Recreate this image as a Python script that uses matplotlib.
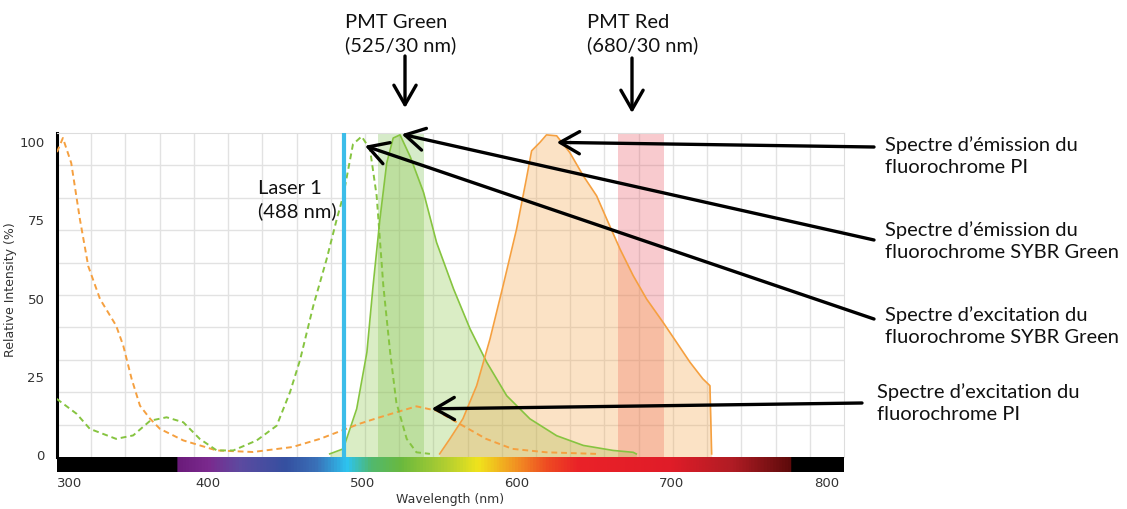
import numpy as np
import matplotlib
matplotlib.use("Agg")
import matplotlib.pyplot as plt
from matplotlib.colors import LinearSegmentedColormap

# Spectre d'excitation PI (pointillés orange)
pi_exc_nm = [302.8, 306.6, 312, 317.6, 323, 330.6, 341, 345.6, 351, 356.4, 363, 369.3,
             384.4, 405.9, 429.4, 455, 472.7, 487, 498, 510, 522, 535, 548, 565, 580,
             597, 619, 651]
pi_exc_val = [96.5, 101, 93, 75, 60, 49.5, 41, 34.6, 24, 15.4, 11.2, 8,
              4.3, 1.1, 0.6, 2.2, 4.8, 7.5, 9.6, 11.5, 13.3, 15.2, 13.8, 9, 4.8,
              1.6, 0.5, 0]

# Spectre d'excitation SYBR Green (pointillés verts)
sg_exc_nm = [302.6, 315.5, 324, 341, 352, 363, 373.6, 384.4, 395, 406, 416.7, 431.8,
             444.7, 453.3, 459.8, 468.4, 477, 483.5, 487.7, 494, 499.6, 505, 509.3,
             513.6, 518, 522, 528.7, 535, 543.7]
sg_exc_val = [17.6, 12.8, 8, 4.8, 5.9, 10.6, 11.7, 10.1, 4.8, 1.1, 1.1, 4.3,
              9, 19.7, 30, 47.4, 62.3, 75, 82.5, 99, 101.5, 97.4, 82.5,
              53.8, 32.5, 16.5, 4.8, 0.5, 0]

# Spectre d'émission SYBR Green (trait plein vert)
sg_em_nm = [479, 487.7, 496.4, 503, 507, 511.4, 515.8, 520, 524.4, 531, 539.6, 548,
            559, 569.6, 580.4, 593.3, 608.3, 625.6, 642.8, 662, 675, 677]
sg_em_val = [0, 1.6, 14.4, 32.5, 53.8, 75, 93, 101, 102, 95, 83.6, 67.6,
             52.7, 40, 29.3, 18.6, 11.2, 5.8, 2.7, 1.1, 0.5, 0]

# Spectre d'émission PI (trait plein orange)
pi_em_nm = [550, 556.6, 565, 573.9, 582.5, 591, 599.7, 606, 609.4, 614.8, 619, 625.6,
            634, 642.8, 651.4, 658, 666.5, 675, 683.7, 694.4, 703, 711.7, 720, 724.6, 725.7]
pi_em_val = [0, 4.8, 11.2, 21.8, 36.7, 53.8, 71.9, 87.9, 96.9, 99.6, 102, 101.7,
             96.4, 88.9, 82.5, 75, 65.5, 57, 49.5, 42, 35.7, 29.3, 24, 21.8, 0]

laser_nm = 488
pmt_green = (525, 30)
pmt_red = (680, 30)

x_ticks = [300, 400, 500, 600, 700, 800]
y_ticks = [0, 25, 50, 75, 100]

orange = '#f5a040'
green = '#86c440'

W, H = 1127, 510
def fx(px):
    return px / W
def fy(py):
    return 1 - py / H

plt.rcParams['font.family'] = ['DejaVu Sans']
fig = plt.figure(figsize=(W / 100, H / 100), dpi=100)

xmin, xmax = 302.8, 811.2
ymin, ymax = -1, 102.6

ax = fig.add_axes([fx(57), fy(458), (844 - 57) / W, (458 - 134) / H])
ax.set_xlim(xmin, xmax)
ax.set_ylim(ymin, ymax)

# grille
ax.set_xticks(np.linspace(xmin, xmax, 24)[1:-1], minor=True)
ax.set_yticks(np.linspace(ymin, ymax, 11)[1:-1], minor=True)
ax.grid(which='minor', color='#e2e2e2', lw=1)
ax.set_axisbelow(True)
ax.set_xticks([])
ax.set_yticks(y_ticks)
ax.tick_params(which='both', length=0)
ax.tick_params(axis='y', labelsize=9.5, labelcolor='#333333', pad=9)
for side in ['top', 'right']:
    ax.spines[side].set_color('#dddddd')
ax.spines['bottom'].set_visible(False)
ax.spines['left'].set_color('black')
ax.spines['left'].set_linewidth(2.2)
ax.set_ylabel('Relative Intensity (%)', fontsize=9, color='#333333')
ax.yaxis.set_label_coords(-0.051, 0.52)

# bandes PMT
ax.axvspan(pmt_green[0] - pmt_green[1] / 2, pmt_green[0] + pmt_green[1] / 2,
           color='#8cc665', alpha=0.35, lw=0, zorder=1)
ax.axvspan(pmt_red[0] - pmt_red[1] / 2, pmt_red[0] + pmt_red[1] / 2,
           color='#e8525f', alpha=0.3, lw=0, zorder=1)

# spectres d'émission
ax.fill_between(sg_em_nm, sg_em_val, ymin, color=green, alpha=0.3, lw=0, zorder=2)
ax.plot(sg_em_nm, sg_em_val, color=green, lw=1.2, zorder=3)
ax.fill_between(pi_em_nm, pi_em_val, ymin, color=orange, alpha=0.3, lw=0, zorder=2)
ax.plot(pi_em_nm, pi_em_val, color=orange, lw=1.2, zorder=3)

# spectres d'excitation
ax.plot(pi_exc_nm, pi_exc_val, color=orange, lw=1.4, ls=(0, (3, 2)), zorder=3)
ax.plot(sg_exc_nm, sg_exc_val, color=green, lw=1.4, ls=(0, (3, 2)), zorder=3)

# laser
ax.axvline(laser_nm, color='#3cbde9', lw=3, zorder=4)

# barre du spectre visible
bar = fig.add_axes([fx(57), fy(473), (844 - 57) / W, 15 / H])
stops = [(xmin, '#000000'), (380, '#000000'), (380.1, '#6a1b7a'), (400, '#7b2a8e'),
         (420, '#5d4aa0'), (450, '#3550a0'), (470, '#3a70b8'), (490, '#2dc4f0'),
         (505, '#50b870'), (525, '#6ab93e'), (555, '#b4cf30'), (575, '#f0e41c'),
         (600, '#f29022'), (620, '#ee4a22'), (640, '#ea2228'), (700, '#e01c28'),
         (740, '#b01c24'), (779, '#5a0a0a'), (779.1, '#000000'), (xmax, '#000000')]
cmap = LinearSegmentedColormap.from_list(
    'vis', [((s - xmin) / (xmax - xmin), c) for s, c in stops])
grad = np.linspace(0, 1, 1000).reshape(1, -1)
bar.imshow(grad, cmap=cmap, aspect='auto', extent=[xmin, xmax, 0, 1])
bar.set_xlim(xmin, xmax)
bar.set_yticks([])
bar.set_xticks([max(t, xmin) for t in x_ticks])
bar.set_xticklabels([str(t) for t in x_ticks])
bar.get_xticklabels()[0].set_ha('left')
bar.tick_params(length=0, labelsize=9.5, labelcolor='#333333', pad=3)
for s in bar.spines.values():
    s.set_visible(False)
bar.set_xlabel('Wavelength (nm)', fontsize=9, color='#333333', labelpad=2)

# annotations
tfont = dict(family=['Lato', 'DejaVu Sans'], fontsize=14.5, color='#111111')
ap = dict(arrowstyle='->,head_length=0.7,head_width=0.4', lw=2.4, color='black',
          shrinkA=0, shrinkB=0, mutation_scale=20)

fig.text(fx(345), fy(34), 'PMT Green\n(525/30 nm)', va='center', ha='left',
         linespacing=1.3, **tfont)
fig.text(fx(587), fy(34), 'PMT Red\n(680/30 nm)', va='center', ha='left',
         linespacing=1.3, **tfont)
ax.annotate('', xy=(fx(405), fy(109)), xycoords='figure fraction',
            xytext=(fx(405), fy(57)), textcoords='figure fraction',
            arrowprops=ap, annotation_clip=False)
ax.annotate('', xy=(fx(632), fy(114)), xycoords='figure fraction',
            xytext=(fx(632), fy(59)), textcoords='figure fraction',
            arrowprops=ap, annotation_clip=False)

fig.text(fx(258), fy(200), 'Laser 1\n(488 nm)', va='center', ha='left',
         linespacing=1.3, **tfont)

labels = [
    ("Spectre d\u2019émission du\nfluorochrome PI", (885, 156), (625.6, 99.6), (874, 148)),
    ("Spectre d\u2019émission du\nfluorochrome SYBR Green", (885, 241), (525.5, 102.2), (874, 241)),
    ("Spectre d\u2019excitation du\nfluorochrome SYBR Green", (885, 326), (501.7, 98.5), (874, 320)),
    ("Spectre d\u2019excitation du\nfluorochrome PI", (877, 403), (544.8, 14.4), (862, 404)),
]
for txt, tpos, tip, tail in labels:
    fig.text(fx(tpos[0]), fy(tpos[1]), txt, va='center', ha='left',
             linespacing=1.3, **tfont)
    ax.annotate('', xy=tip, xycoords='data',
                xytext=(fx(tail[0]), fy(tail[1])), textcoords='figure fraction',
                arrowprops=ap, annotation_clip=False, zorder=6)

fig.savefig('out.png', dpi=100)
